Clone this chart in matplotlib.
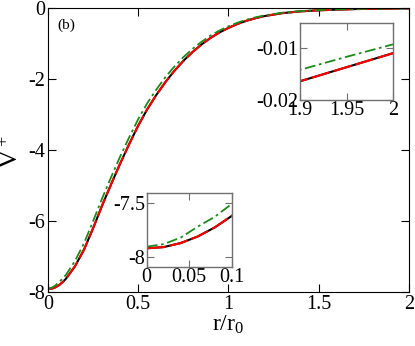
import matplotlib
matplotlib.use("Agg")
import matplotlib.pyplot as plt

plt.rcParams['font.family'] = ['Liberation Serif', 'DejaVu Serif']
plt.rcParams['mathtext.fontset'] = 'custom'
plt.rcParams['mathtext.rm'] = 'Liberation Serif'
plt.rcParams['mathtext.it'] = 'Liberation Serif'
plt.rcParams['axes.unicode_minus'] = False

# r / r0 grid (finer near both ends for the insets)
r = [0, 0.02, 0.04, 0.06, 0.08, 0.1, 0.15, 0.2, 0.25, 0.3, 0.35, 0.4, 0.45, 0.5,
     0.55, 0.6, 0.65, 0.7, 0.75, 0.8, 0.85, 0.9, 0.95, 1.0, 1.05, 1.1, 1.15,
     1.2, 1.3, 1.4, 1.5, 1.6, 1.7, 1.8, 1.9, 1.95, 2.0]
v_black = [-7.918, -7.907, -7.870, -7.810, -7.727, -7.622, -7.27, -6.8, -6.2,
           -5.56, -4.96, -4.38, -3.83, -3.31, -2.85, -2.45, -2.09, -1.77, -1.49,
           -1.245, -1.03, -0.845, -0.69, -0.56, -0.45, -0.36, -0.287, -0.228,
           -0.145, -0.095, -0.066, -0.046, -0.032, -0.023, -0.0164, -0.0137, -0.011]
v_red = [-7.918, -7.907, -7.870, -7.810, -7.727, -7.622, -7.27, -6.8, -6.2,
         -5.56, -4.96, -4.38, -3.83, -3.31, -2.85, -2.45, -2.09, -1.77, -1.49,
         -1.245, -1.03, -0.845, -0.69, -0.56, -0.45, -0.36, -0.287, -0.228,
         -0.145, -0.095, -0.066, -0.046, -0.032, -0.023, -0.0164, -0.0137, -0.011]
v_green = [-7.903, -7.880, -7.820, -7.720, -7.630, -7.512, -7.12, -6.62, -6.0,
           -5.36, -4.76, -4.18, -3.64, -3.13, -2.68, -2.30, -1.95, -1.65, -1.385,
           -1.155, -0.955, -0.78, -0.635, -0.515, -0.415, -0.33, -0.264, -0.21,
           -0.133, -0.087, -0.06, -0.042, -0.029, -0.0205, -0.0142, -0.0117, -0.0093]

main_xticks = [0, 0.5, 1, 1.5, 2]
main_xlabels = ['0', '0.5', '1', '1.5', '2']
main_yticks = [0, -2, -4, -6, -8]
main_ylabels = ['0', '-2', '-4', '-6', '-8']


def draw_curves(ax):
    ax.plot(r, v_black, color='black', lw=1.5)
    ax.plot(r, v_red, color='red', lw=1.5, ls=(0, (9, 2)))
    ax.plot(r, v_green, color='#1a8c1a', lw=1.3, ls=(0, (6, 2, 1.5, 2)))


fig = plt.figure(figsize=(4.15, 3.46), dpi=100)
ax = fig.add_axes([0.1157, 0.156, 0.8698, 0.821])
draw_curves(ax)
ax.set_xlim(0, 2)
ax.set_ylim(-8, 0)
ax.set_xticks(main_xticks)
ax.set_xticklabels(main_xlabels)
ax.set_yticks(main_yticks)
ax.set_yticklabels(main_ylabels)
ax.tick_params(direction='in', top=True, right=True, length=6, labelsize=14.5, pad=2)
ax.set_xlabel('r/r$_0$', fontsize=17, labelpad=0)
fig.text(11 / 415, 0.56, 'V$^+$', fontsize=19, rotation=90, ha='center', va='center')
ax.text(0.025, 0.925, '(b)', transform=ax.transAxes, fontsize=11)

# inset near r = 2
ax1 = fig.add_axes([0.723, 0.711, 0.224, 0.2225])
draw_curves(ax1)
ax1.set_xlim(1.9, 2)
ax1.set_ylim(-0.02, -0.0052)
ax1.set_xticks([1.9, 1.95, 2])
ax1.set_xticklabels(['1.9', '1.95', '2'])
ax1.set_yticks([-0.02, -0.01])
ax1.set_yticklabels(['-0.02', '-0.01'])

# inset near r = 0
ax2 = fig.add_axes([0.3535, 0.2283, 0.205, 0.2147])
draw_curves(ax2)
ax2.set_xlim(0, 0.1)
ax2.set_ylim(-8.089, -7.41)
ax2.set_xticks([0, 0.05, 0.1])
ax2.set_xticklabels(['0', '0.05', '0.1'])
ax2.set_yticks([-8, -7.5])
ax2.set_yticklabels(['-8', '-7.5'])

for a in (ax1, ax2):
    a.tick_params(direction='in', top=True, right=True, length=5, labelsize=14.5,
                  pad=1, color='#707070')
    for s in a.spines.values():
        s.set_color('#707070')
        s.set_linewidth(1.0)

fig.savefig('out.png', dpi=100)
